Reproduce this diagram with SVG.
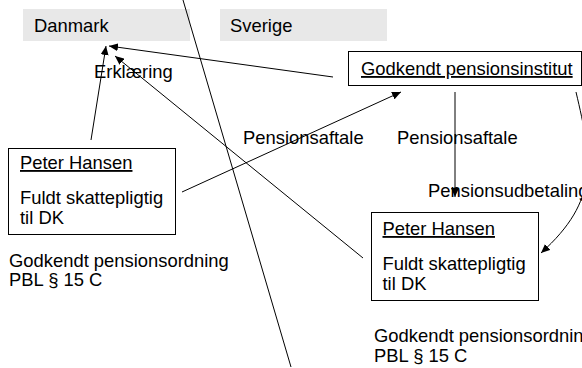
<svg xmlns="http://www.w3.org/2000/svg" width="582" height="368" viewBox="0 0 582 368">
<defs>
<style>
text { font-family: "Liberation Sans", Arial, sans-serif; font-size: 18.4px; fill: #000; }
.u { text-decoration: underline; }
.region { fill: #e8e8e8; stroke: none; }
.box { fill: #fff; stroke: #000; stroke-width: 1; }
.conn { fill: none; stroke: #000; stroke-width: 1; }
</style>
<marker id="ah" markerUnits="userSpaceOnUse" markerWidth="10" markerHeight="8" refX="9" refY="4" orient="auto"><path d="M0,0 L9,4 L0,8 z" fill="#000"/></marker>
</defs>
<rect width="582" height="368" fill="#fff"/>
<g id="danmark"><rect class="region" x="23" y="9" width="167" height="32"/><text x="34" y="32">Danmark</text></g>
<g id="sverige"><rect class="region" x="220" y="9" width="167" height="32"/><text x="230" y="32">Sverige</text></g>
<g id="institut"><rect class="box" x="348.5" y="51.5" width="233" height="34"/><text class="u" x="361" y="75">Godkendt pensionsinstitut</text></g>
<g id="peter-dk"><rect class="box" x="8.5" y="148.5" width="167" height="86"/><text class="u" x="20" y="169">Peter Hansen</text><text x="20" y="204">Fuldt skattepligtig</text><text x="20" y="224">til DK</text></g>
<g id="ordning-dk"><text x="9" y="267">Godkendt pensionsordning</text><text x="9" y="286">PBL § 15 C</text></g>
<g id="peter-se"><rect class="box" x="371.5" y="212.5" width="167" height="88"/><text class="u" x="382.5" y="235">Peter Hansen</text><text x="382.5" y="270">Fuldt skattepligtig</text><text x="382.5" y="290">til DK</text></g>
<g id="ordning-se"><text x="374" y="342">Godkendt pensionsordning</text><text x="374" y="362">PBL § 15 C</text></g>
<g id="labels"><text x="94" y="78">Erklæring</text><text x="243" y="144">Pensionsaftale</text><text x="397" y="144">Pensionsaftale</text><text x="428" y="197">Pensionsudbetaling</text></g>
<g id="connectors">
<line class="conn" x1="91" y1="140" x2="106" y2="46" marker-end="url(#ah)"/>
<line class="conn" x1="333" y1="77" x2="109" y2="46" marker-end="url(#ah)"/>
<line class="conn" x1="363" y1="258" x2="115" y2="56" marker-end="url(#ah)"/>
<line class="conn" x1="182" y1="192" x2="401" y2="92" marker-end="url(#ah)"/>
<line class="conn" x1="455" y1="92" x2="455" y2="197" marker-end="url(#ah)"/>
<path class="conn" d="M576,92 C592,160 600,200 541,253" marker-end="url(#ah)"/>
<line class="conn" x1="183" y1="0" x2="291" y2="367"/>
</g>
</svg>
